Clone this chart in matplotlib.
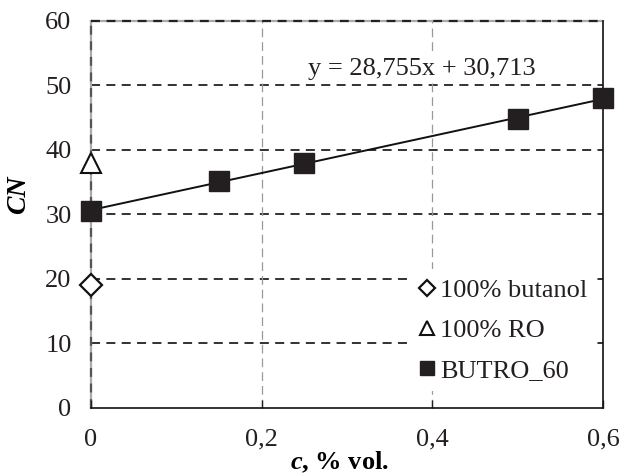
import matplotlib
matplotlib.use("Agg")
import matplotlib.pyplot as plt
import numpy as np

plt.rcParams['font.family'] = ['Liberation Serif', 'DejaVu Serif']
plt.rcParams['mathtext.fontset'] = 'custom'
plt.rcParams['mathtext.rm'] = 'Liberation Serif'
plt.rcParams['mathtext.it'] = 'Liberation Serif:italic'
plt.rcParams['mathtext.bf'] = 'Liberation Serif:bold'
plt.rcParams['mathtext.bfit'] = 'Liberation Serif:bold:italic'

butro_x = [0.0, 0.15, 0.25, 0.5, 0.6]
butro_y = [30.5, 35.2, 38.0, 44.8, 48.0]
butanol_x = [0.0]
butanol_y = [19.0]
ro_x = [0.0]
ro_y = [38.0]
x_ticks = [0, 0.2, 0.4, 0.6]
x_tick_labels = ['0', '0,2', '0,4', '0,6']
y_ticks = [0, 10, 20, 30, 40, 50, 60]
equation = 'y = 28,755x + 30,713'

FS = 19

fig = plt.figure(figsize=(6.22, 4.75), dpi=100)
ax = fig.add_axes([0.1463, 0.1411, 0.8232, 0.8147])
ax.set_xlim(0, 0.6)
ax.set_ylim(0, 60)

# grid lines
for yv in y_ticks[1:-1]:
    ax.axhline(yv, color='#222222', lw=1.3, ls=(0, (5, 3.5)), zorder=1)
for xv in [0.2, 0.4]:
    ax.axvline(xv, color='#999999', lw=0.9, ls=(0, (7, 4)), zorder=1)
# top / left borders (dashed like the gridlines)
ax.axhline(60, color='#aaaaaa', lw=1.6, zorder=1, clip_on=False)
ax.axhline(60, color='#222222', lw=1.6, ls=(0, (4, 3)), zorder=1.1, clip_on=False)
ax.axvline(0, color='#aaaaaa', lw=1.6, zorder=1, clip_on=False)
ax.axvline(0, color='#555555', lw=1.6, ls=(0, (4, 3)), zorder=1.1, clip_on=False)
ax.spines['top'].set_visible(False)
ax.spines['left'].set_visible(False)
for s in ['bottom', 'right']:
    ax.spines[s].set_color('#111111')
    ax.spines[s].set_linewidth(1.2)

# trend line
coef = np.polyfit(butro_x, butro_y, 1)
xx = np.array([0, 0.6])
ax.plot(xx, np.polyval(coef, xx), color='#111111', lw=1.4, zorder=3)

ax.plot(butanol_x, butanol_y, ls='none', marker='D', ms=11, mfc='white', mec='#111111',
        mew=1.6, label='100% butanol', zorder=4, clip_on=False)
ax.plot(ro_x, ro_y, ls='none', marker='^', ms=14, mfc='white', mec='#111111',
        mew=1.5, label='100% RO', zorder=4, clip_on=False)
ax.plot(butro_x, butro_y, ls='none', marker='s', ms=14, mfc='#231f20', mec='#231f20',
        label='BUTRO_60', zorder=5, clip_on=False)

ax.text(0.388, 52.6, equation, fontsize=FS, ha='center', va='center', color='#231f20',
        bbox=dict(facecolor='white', edgecolor='none', pad=1), zorder=2)

ax.set_xticks(x_ticks)
ax.set_xticklabels(x_tick_labels)
ax.set_yticks(y_ticks)
ax.tick_params(axis='both', labelsize=FS, colors='#231f20', direction='in', length=6, width=1)
ax.tick_params(axis='y', length=0, pad=14)
ax.tick_params(axis='x', pad=15)

ax.set_xlabel(r'$\boldsymbol{c}$, % vol.', fontsize=FS, fontweight='bold')
ax.xaxis.set_label_coords(0.485, -0.108)
ax.set_ylabel('CN', fontsize=20, fontweight='bold', fontstyle='italic')
ax.yaxis.set_label_coords(-0.118, 0.55)

leg = ax.legend(loc='lower right', bbox_to_anchor=(0.998, 0.03), fontsize=FS, frameon=True,
                facecolor='white', edgecolor='none', framealpha=1, fancybox=False,
                handlelength=0.7, handletextpad=0.15, markerscale=0.72, labelspacing=0.62,
                borderpad=0.35, borderaxespad=0.2)
leg.set_zorder(6)
for t in leg.get_texts():
    t.set_color('#231f20')

fig.savefig('out.png', dpi=100)
